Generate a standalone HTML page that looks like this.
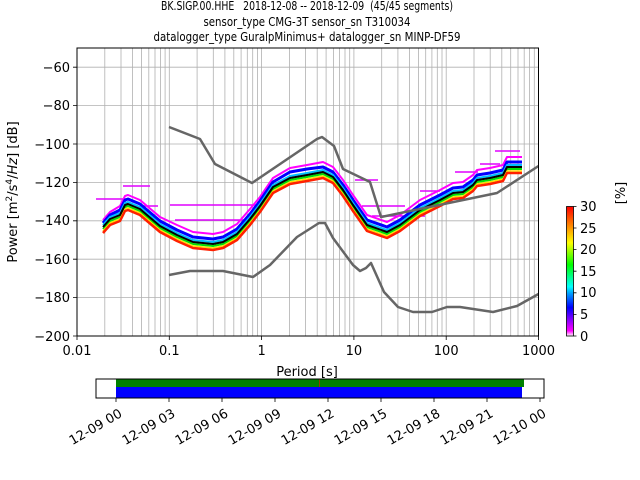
<!DOCTYPE html>
<html><head><meta charset="utf-8"><style>
html,body{margin:0;padding:0;background:#fff;}
svg{display:block;font-family:"DejaVu Sans","Liberation Sans",sans-serif;}
</style></head><body>
<svg width="640" height="480" viewBox="0 0 640 480" xmlns="http://www.w3.org/2000/svg">
<rect width="640" height="480" fill="#fff"/>
<g font-size="12" text-anchor="middle" fill="#000">
<text x="307" y="10" textLength="292" lengthAdjust="spacingAndGlyphs">BK.SIGP.00.HHE&#160;&#160;&#160;2018-12-08 -- 2018-12-09&#160;&#160;(45/45 segments)</text>
<text x="307" y="26" textLength="207" lengthAdjust="spacingAndGlyphs">sensor_type CMG-3T sensor_sn T310034</text>
<text x="307" y="41" textLength="307" lengthAdjust="spacingAndGlyphs">datalogger_type GuralpMinimus+ datalogger_sn MINP-DF59</text>
</g>
<!-- grid -->
<path stroke="#b0b0b0" stroke-width="0.8" fill="none" d="
M104.8 48V336M121 48V336M132.6 48V336M141.5 48V336M148.8 48V336M155 48V336M160.4 48V336M165.1 48V336
M169.3 48V336M197.1 48V336M213.3 48V336M224.9 48V336M233.8 48V336M241.1 48V336M247.3 48V336M252.7 48V336M257.4 48V336
M261.6 48V336M289.4 48V336M305.6 48V336M317.2 48V336M326.1 48V336M333.4 48V336M339.6 48V336M345 48V336M349.7 48V336
M353.9 48V336M381.7 48V336M397.9 48V336M409.5 48V336M418.4 48V336M425.7 48V336M431.9 48V336M437.3 48V336M442 48V336
M446.2 48V336M474 48V336M490.2 48V336M501.8 48V336M510.7 48V336M518 48V336M524.2 48V336M529.6 48V336M534.3 48V336
M77 67.2H538.5M77 105.6H538.5M77 144H538.5M77 182.4H538.5M77 220.8H538.5M77 259.2H538.5M77 297.6H538.5"/>
<!-- PPSD colored band -->
<g fill="none" stroke-linejoin="round">
<g stroke="#e000ff" stroke-width="1.5">
<path d="M96 199H128M123 186H150M140 206H158M170 205H258M175 220H245M355 180H378M372 216H425M362 206H405M420 191H440M455 172H478M480 164H500M495 151H520"/>
</g>
<polyline stroke="#ff00ff" stroke-width="2" points="103,220 110,212 120,206 125,196 128,195 140,200 147,206 160,217 177,225 193,232 213,234 223,232 237,224 250,209 260,197 273,178 290,168 307,165 323,162 333,167 343,180 353,195 367,215 387,222 400,215 420,200 440,190 453,183 463,182 473,175 477,170 490,168 503,165 507,157 522,157"/>
<polyline stroke="#0000ff" stroke-width="3" points="103,223 110,215 120,210 125,200 128,199 140,204 147,210 160,221 177,230 193,237 213,239 223,237 237,229 250,214 260,201 273,182 290,172 307,169 323,167 333,172 343,185 353,200 367,220 387,227 400,220 420,205 440,195 453,188 463,187 473,180 477,175 490,173 503,170 507,162 522,162"/>
<polyline stroke="#00c0ff" stroke-width="2" points="103,225 110,217 120,213 125,203 128,202 140,207 147,213 160,224 177,233 193,240 213,242 223,240 237,232 250,217 260,204 273,185 290,176 307,173 323,170 333,175 343,188 353,203 367,223 387,230 400,223 420,208 440,198 453,191 463,190 473,183 477,178 490,176 503,173 507,165 522,165"/>
<polyline stroke="#00e000" stroke-width="2" points="103,229 110,221 120,217 125,207 128,206 140,211 147,217 160,228 177,237 193,244 213,246 223,244 237,236 250,221 260,208 273,189 290,180 307,177 323,174 333,179 343,192 353,207 367,227 387,234 400,227 420,212 440,202 453,195 463,194 473,187 477,182 490,180 503,177 507,169 522,169"/>
<polyline stroke="#ffe000" stroke-width="1.5" points="103,231 110,223 120,219 125,209 128,208 140,213 147,219 160,230 177,239 193,246 213,248 223,246 237,238 250,223 260,210 273,191 290,182 307,179 323,176 333,181 343,194 353,209 367,229 387,236 400,229 420,214 440,204 453,197 463,196 473,189 477,184 490,182 503,179 507,171 522,171"/>
<polyline stroke="#ff2000" stroke-width="2.5" points="103,233 110,225 120,221 125,211 128,210 140,215 147,221 160,232 177,241 193,248 213,250 223,248 237,240 250,225 260,212 273,193 290,184 307,181 323,178 333,183 343,196 353,211 367,231 387,238 400,231 420,216 440,206 453,199 463,198 473,191 477,186 490,184 503,181 507,173 522,173"/>
<polyline stroke="#000" stroke-width="2" points="103,227 110,219 120,215 125,205 128,204 140,209 147,215 160,226 177,235 193,242 213,244 223,242 237,234 250,219 260,206 273,187 290,178 307,175 323,172 333,177 343,190 353,205 367,225 387,232 400,225 420,210 440,200 453,193 463,192 473,185 477,180 490,178 503,175 507,167 522,167"/>
</g>
<!-- noise models -->
<g fill="none" stroke="#666" stroke-width="2.5" stroke-linejoin="round">
<polyline points="169,127 200,139 215,164 252,183 317,139 322,137 334,146 343,169 370,182 381,217 497,193 538.5,166"/>
<polyline points="169,275 190,271 223,271 253,277 270,265 297,237 319,223 325,223 333,238 353,265 360,271 366,268 371,263 384,292 398,307 413,312 432,312 447,307 460,307 493,312 517,306 538.5,294"/>
</g>
<!-- axes frame -->
<rect x="77" y="48" width="461.5" height="288" fill="none" stroke="#000" stroke-width="1"/>
<!-- ticks -->
<path stroke="#000" stroke-width="0.8" d="M77 336v4M169.3 336v4M261.6 336v4M353.9 336v4M446.2 336v4M538.5 336v4
M77 67.2h-4M77 105.6h-4M77 144h-4M77 182.4h-4M77 220.8h-4M77 259.2h-4M77 297.6h-4M77 336h-4"/>
<g font-size="13" fill="#000" text-anchor="middle">
<text x="77" y="355">0.01</text><text x="169.3" y="355">0.1</text><text x="261.6" y="355">1</text>
<text x="353.9" y="355">10</text><text x="446.2" y="355">100</text><text x="538.5" y="355">1000</text>
<text x="307" y="376">Period [s]</text>
</g>
<g font-size="13" fill="#000" text-anchor="end">
<text x="70" y="72">−60</text><text x="70" y="110">−80</text><text x="70" y="149">−100</text>
<text x="70" y="187">−120</text><text x="70" y="225">−140</text><text x="70" y="264">−160</text>
<text x="70" y="302">−180</text><text x="70" y="341">−200</text>
</g>
<text transform="translate(17,192) rotate(-90)" font-size="13" text-anchor="middle">Power [m<tspan font-size="9" dy="-5">2</tspan><tspan dy="5">/s</tspan><tspan font-size="9" dy="-5">4</tspan><tspan dy="5">/</tspan><tspan font-style="italic">Hz</tspan>] [dB]</text>
<!-- colorbar -->
<defs><linearGradient id="cb" x1="0" y1="1" x2="0" y2="0">
<stop offset="0" stop-color="#ffffff"/><stop offset="0.04" stop-color="#ff00ff"/><stop offset="0.13" stop-color="#8000ff"/>
<stop offset="0.22" stop-color="#0000ff"/><stop offset="0.33" stop-color="#00a0ff"/><stop offset="0.38" stop-color="#00ffff"/>
<stop offset="0.55" stop-color="#00ff00"/><stop offset="0.72" stop-color="#ffff00"/><stop offset="0.86" stop-color="#ff8000"/>
<stop offset="1" stop-color="#ff0000"/></linearGradient></defs>
<rect x="566.5" y="206.5" width="7" height="129.5" fill="url(#cb)" stroke="#000" stroke-width="0.8"/>
<path stroke="#000" stroke-width="0.8" d="M573.5 206.5h3M573.5 228h3M573.5 249.6h3M573.5 271.2h3M573.5 292.8h3M573.5 314.4h3M573.5 336h3"/>
<g font-size="13" fill="#000">
<text x="580" y="211">30</text><text x="580" y="233">25</text><text x="580" y="254">20</text>
<text x="580" y="276">15</text><text x="580" y="297">10</text><text x="580" y="319">5</text><text x="580" y="341">0</text>
</g>
<text transform="translate(625,193) rotate(-90)" font-size="13" text-anchor="middle">[%]</text>
<!-- timeline -->
<rect x="116" y="379" width="408" height="8" fill="#008000"/>
<rect x="116" y="387" width="406" height="11" fill="#0000ff"/>
<line x1="319.5" y1="379" x2="319.5" y2="387" stroke="#ff0000" stroke-width="0.6"/>
<rect x="96" y="379" width="448" height="19" fill="none" stroke="#000" stroke-width="1"/>
<path stroke="#000" stroke-width="0.8" d="M116 398v4M169 398v4M222 398v4M275 398v4M328 398v4M381 398v4M434 398v4M487 398v4M540 398v4"/>
<g font-size="13" fill="#000" text-anchor="end">
<text transform="translate(123,416) rotate(-30)">12-09 00</text>
<text transform="translate(176,416) rotate(-30)">12-09 03</text>
<text transform="translate(229,416) rotate(-30)">12-09 06</text>
<text transform="translate(282,416) rotate(-30)">12-09 09</text>
<text transform="translate(335,416) rotate(-30)">12-09 12</text>
<text transform="translate(388,416) rotate(-30)">12-09 15</text>
<text transform="translate(441,416) rotate(-30)">12-09 18</text>
<text transform="translate(494,416) rotate(-30)">12-09 21</text>
<text transform="translate(547,416) rotate(-30)">12-10 00</text>
</g>
</svg>
</body></html>
